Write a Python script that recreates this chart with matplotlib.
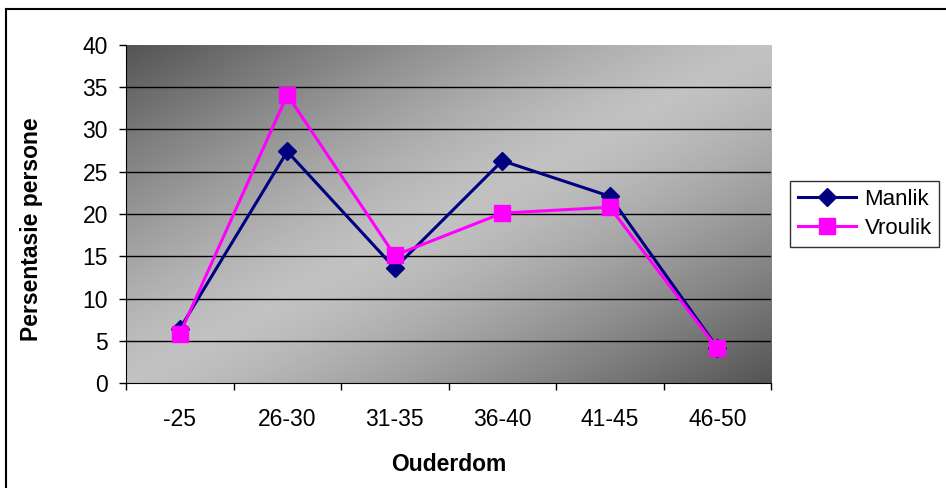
import matplotlib.pyplot as plt
import numpy as np

plt.rcParams['font.family'] = ['Liberation Sans', 'DejaVu Sans']

age_groups = ['-25', '26-30', '31-35', '36-40', '41-45', '46-50']
manlik = [6.4, 27.4, 13.6, 26.3, 22.1, 4.2]
vroulik = [5.8, 34.1, 15.1, 20.1, 20.8, 4.1]

fig = plt.figure(figsize=(9.46, 4.88), dpi=100)
ax = fig.add_axes([126 / 946, 1 - 383 / 488, (771 - 126) / 946, (383 - 45) / 488])

# diagonal grey gradient: dark in top-left and bottom-right corners
u, v = np.meshgrid(np.linspace(0, 1, 300), np.linspace(0, 1, 200))
t = (u + v) / 2
shade = 1 - np.abs(2 * t - 1) ** 1.3
img = 0.33 + (0.76 - 0.33) * shade
ax.imshow(img, cmap='gray', vmin=0, vmax=1, extent=[0, 1, 0, 1],
          transform=ax.transAxes, aspect='auto', zorder=0, interpolation='bilinear')

x = np.arange(len(age_groups)) + 0.5
ax.plot(x, manlik, color='#000080', lw=2.2, marker='D', ms=9, label='Manlik', zorder=3)
ax.plot(x, vroulik, color='#FF00FF', lw=2.2, marker='s', ms=12, label='Vroulik', zorder=4)

ax.set_xlim(0, 6)
ax.set_ylim(0, 40)
ax.set_yticks(range(0, 41, 5))
for yv in range(5, 40, 5):
    ax.axhline(yv, color='black', lw=1, zorder=1)

ax.set_xticks(range(0, 7))
ax.set_xticklabels([])
ax.set_xticks(x, minor=True)
ax.set_xticklabels(age_groups, minor=True)
ax.tick_params(axis='x', which='major', direction='out', length=5, width=1)
ax.tick_params(axis='x', which='minor', length=0, pad=18, labelsize=16.5)
ax.tick_params(axis='y', direction='out', length=5, width=1, pad=8, labelsize=16.5)

for s in ['top', 'right']:
    ax.spines[s].set_visible(False)
ax.spines['left'].set_color('black')
ax.spines['bottom'].set_color('black')

ax.set_xlabel('Ouderdom', fontsize=16.5, fontweight='bold', labelpad=16)
ax.set_ylabel('Persentasie persone', fontsize=16.5, fontweight='bold')
ax.yaxis.set_label_coords(-0.128, 0.456)

leg = fig.legend(loc='center left', bbox_to_anchor=(790 / 946, 1 - 214 / 488),
                 fontsize=16, frameon=True, fancybox=False, edgecolor='black',
                 handlelength=2.6, borderpad=0.35, labelspacing=0.35, handletextpad=0.4,
                 borderaxespad=0)
leg.get_frame().set_linewidth(1)

# outer chart border (only top and left visible in the image)
fig.add_artist(plt.Line2D([6 / 946, 6 / 946], [0, 1 - 9 / 488], color='black', lw=1.5,
                          transform=fig.transFigure))
fig.add_artist(plt.Line2D([6 / 946, 1], [1 - 9 / 488, 1 - 9 / 488], color='black', lw=1.5,
                          transform=fig.transFigure))

fig.savefig('out.png', dpi=100)
